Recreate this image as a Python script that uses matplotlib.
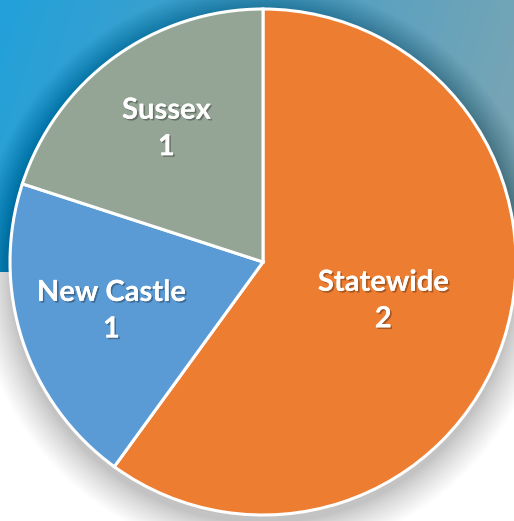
import numpy as np
import matplotlib
matplotlib.use("Agg")
import matplotlib.pyplot as plt
import matplotlib.patheffects as pe
from matplotlib.colors import LinearSegmentedColormap
from matplotlib.patches import Circle

regions = ["Statewide", "New Castle", "Sussex"]
values = [2.4, 0.8, 0.8]
colors = ["#ED7D31", "#5B9BD5", "#94A596"]
label_dist = [0.50, 0.63, 0.65]

W, H = 514, 521
CX, CY, R = 263, 259, 253

fig = plt.figure(figsize=(W / 100, H / 100), dpi=100)
ax = fig.add_axes([0, 0, 1, 1])
ax.set_xlim(0, W); ax.set_ylim(0, H); ax.axis("off")
ax.set_aspect("equal")

# blue banner across the top, white below
band = LinearSegmentedColormap.from_list("band", ["#22A0DA", "#4FA0C4", "#80A6B2"])
xx, yy = np.meshgrid(np.linspace(0, 1, 200), np.linspace(0, 1, 60))
ax.imshow(0.85 * xx + 0.15 * yy, cmap=band, extent=(0, W, 521 - 272, H),
          origin="upper", aspect="auto", zorder=0)

# soft drop shadow under the pie
n = 60
for i in range(n):
    ax.add_patch(Circle((CX, CY - 8), R + 34 * (1 - i / n) ** 1.2, color="black",
                        alpha=0.005, lw=0, zorder=1))

wedges, _ = ax.pie(values, colors=colors, startangle=90, counterclock=False,
                   center=(CX, CY), radius=R, frame=True,
                   wedgeprops=dict(edgecolor="white", linewidth=2.2))
for w in wedges:
    w.set_zorder(2)
ax.set_xlim(0, W); ax.set_ylim(0, H); ax.axis("off")

shadow = [pe.withSimplePatchShadow(offset=(1.2, -1.2), shadow_rgbFace="black", alpha=0.3),
          pe.Normal()]
for w, name, v, d in zip(wedges, regions, values, label_dist):
    ang = np.deg2rad((w.theta1 + w.theta2) / 2)
    ax.text(CX + d * R * np.cos(ang), CY + d * R * np.sin(ang), f"{name}\n{v:.0f}",
            ha="center", va="center", color="white", fontsize=21, fontweight="bold",
            family="Lato", linespacing=1.5, zorder=5, path_effects=shadow)

fig.savefig("out.png", dpi=100)
